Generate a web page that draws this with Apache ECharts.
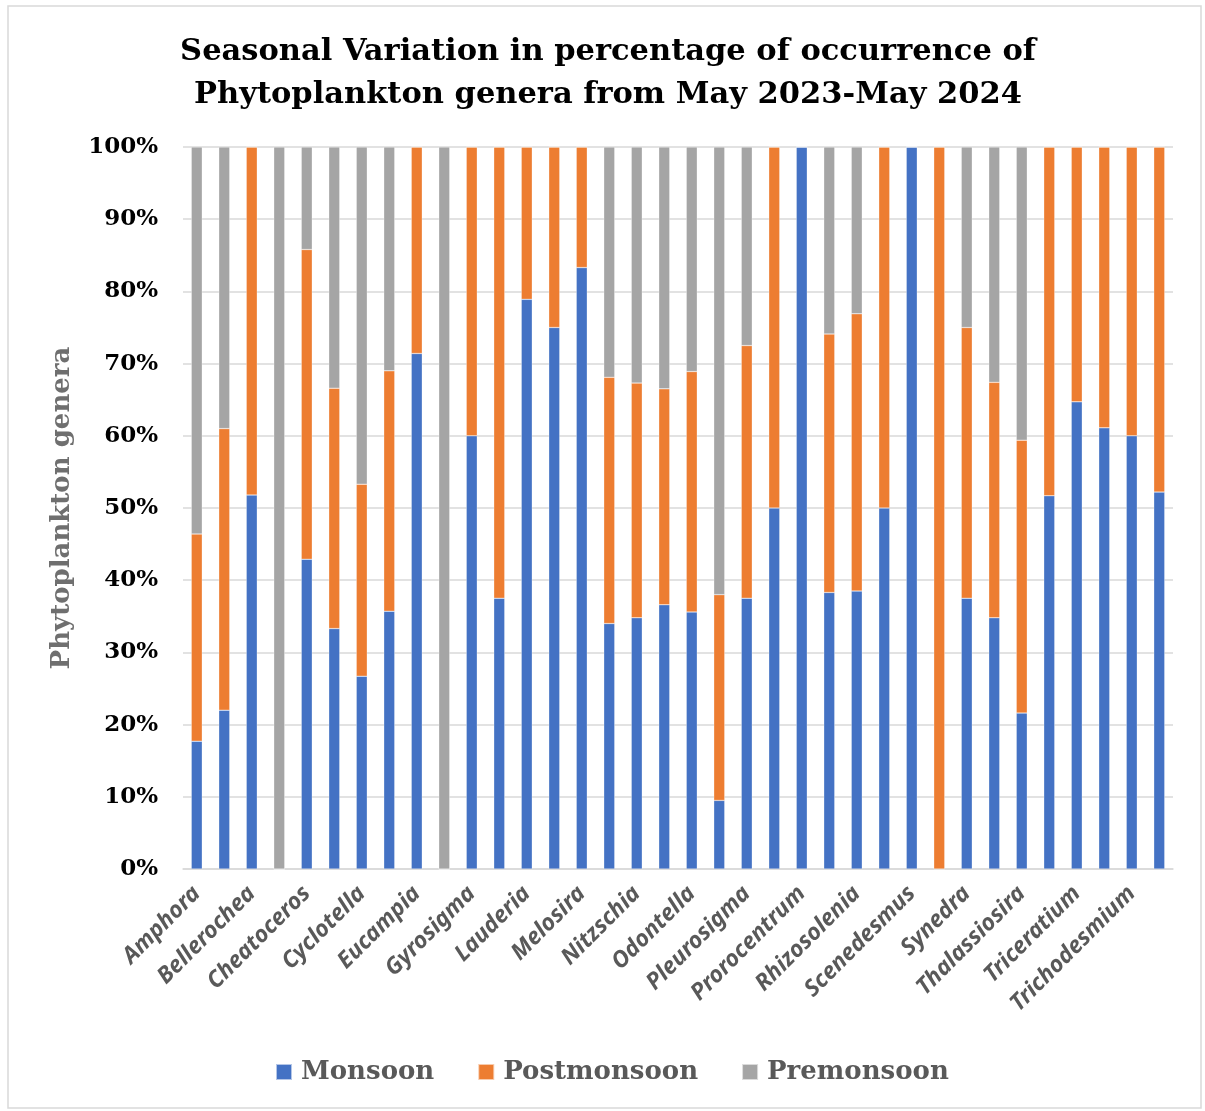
<!DOCTYPE html>
<html>
<head>
<meta charset="utf-8">
<script src="https://cdn.jsdelivr.net/npm/echarts@6/dist/echarts.min.js"></script>
<style>html,body{margin:0;padding:0;background:#fff;}#c{width:1205px;height:1111px;}</style>
</head>
<body>
<div id="c"></div>
<script>
const categories = ['Amphora','Asterionella','Bellerochea','Biddulphia','Cheatoceros','Coscinodiscus','Cyclotella','Ditylum','Eucampia','Fragilaria','Gyrosigma','Hemidiscus','Lauderia','Leptocylindrus','Melosira','Navicula','Nitzschia','Nostoc','Odontella','Peridinium','Pleurosigma','Podolampas','Prorocentrum','Protoperidinium','Rhizosolenia','Richelia','Scenedesmus','Skeletonema','Synedra','Tabellaria','Thalassiosira','Trachelomonas','Triceratium','Trichocerca','Trichodesmium','Ulothrix'];
const monsoon     = [17.7,22.0,51.8,0,42.9,33.3,26.7,35.7,71.4,0,60,37.5,78.9,75,83.3,34.0,34.8,36.6,35.6,9.5,37.5,50,100,38.3,38.5,50,100,0,37.5,34.8,21.6,51.7,64.7,61.1,60,52.2];
const postmonsoon = [28.7,39.0,48.2,0,42.9,33.3,26.6,33.3,28.6,0,40,62.5,21.1,25,16.7,34.1,32.5,29.9,33.3,28.5,35.0,50,0,35.8,38.4,50,0,100,37.5,32.6,37.8,48.3,35.3,38.9,40,47.8];
const premonsoon  = [53.6,39.0,0,100,14.2,33.4,46.7,31.0,0,100,0,0,0,0,0,31.9,32.7,33.5,31.1,62.0,27.5,0,0,25.9,23.1,0,0,0,25.0,32.6,40.6,0,0,0,0,0];
const seriesNames = ['Monsoon','Postmonsoon','Premonsoon'];
const yTicks = [0,10,20,30,40,50,60,70,80,90,100];

const chart = echarts.init(document.getElementById('c'), null, {renderer:'canvas'});
const colors = ['#4472C4','#ED7D31','#A5A5A5'];
const serif = '"DejaVu Serif", "Liberation Serif", serif';
const mk = (name, data, i) => ({
  name, type:'bar', stack:'s', data, barWidth:11,
  itemStyle:{color:colors[i], borderColor:'rgba(255,255,255,0.6)', borderWidth:0.5}
});
chart.setOption({
  animation:false,
  graphic:[{type:'rect', shape:{x:8,y:6,width:1193,height:1102}, style:{fill:'none', stroke:'#d9d9d9', lineWidth:1.5}, z:-1}],
  title:{
    text:'Seasonal Variation in percentage of occurrence of\nPhytoplankton genera from May 2023-May 2024',
    left:603, textAlign:'center', top:26,
    textStyle:{fontFamily:serif, fontWeight:'bold', fontSize:30.5, lineHeight:43, color:'#000'}
  },
  legend:{
    data:seriesNames, bottom:21, left:270, itemWidth:16, itemHeight:16, itemGap:43, icon:'rect',
    textStyle:{fontFamily:serif, fontWeight:'bold', fontSize:26, color:'#595959', padding:[0,0,0,4]}
  },
  grid:{left:183, right:32, top:147, bottom:242, containLabel:false},
  xAxis:{
    type:'category', data:categories,
    axisLine:{lineStyle:{color:'#d9d9d9', width:1.5}},
    axisTick:{show:false},
    axisLabel:{interval:1, rotate:45, margin:21, fontFamily:'"Noto Sans", "DejaVu Sans", sans-serif', fontStyle:'italic', fontWeight:'bold', fontSize:23, color:'#595959'}
  },
  yAxis:{
    type:'value', min:yTicks[0], max:yTicks[yTicks.length-1], interval:10,
    name:'Phytoplankton genera', nameLocation:'middle', nameGap:108,
    nameTextStyle:{fontFamily:serif, fontWeight:'bold', fontSize:26, color:'#6f6f6f'},
    axisLine:{show:false}, axisTick:{show:false},
    splitLine:{lineStyle:{color:'#d9d9d9', width:1.5}},
    axisLabel:{formatter:'{value}%', margin:25, fontFamily:serif, fontWeight:'bold', fontSize:23, color:'#000'}
  },
  series:[mk(seriesNames[0], monsoon, 0), mk(seriesNames[1], postmonsoon, 1), mk(seriesNames[2], premonsoon, 2)]
});
</script>
</body>
</html>
